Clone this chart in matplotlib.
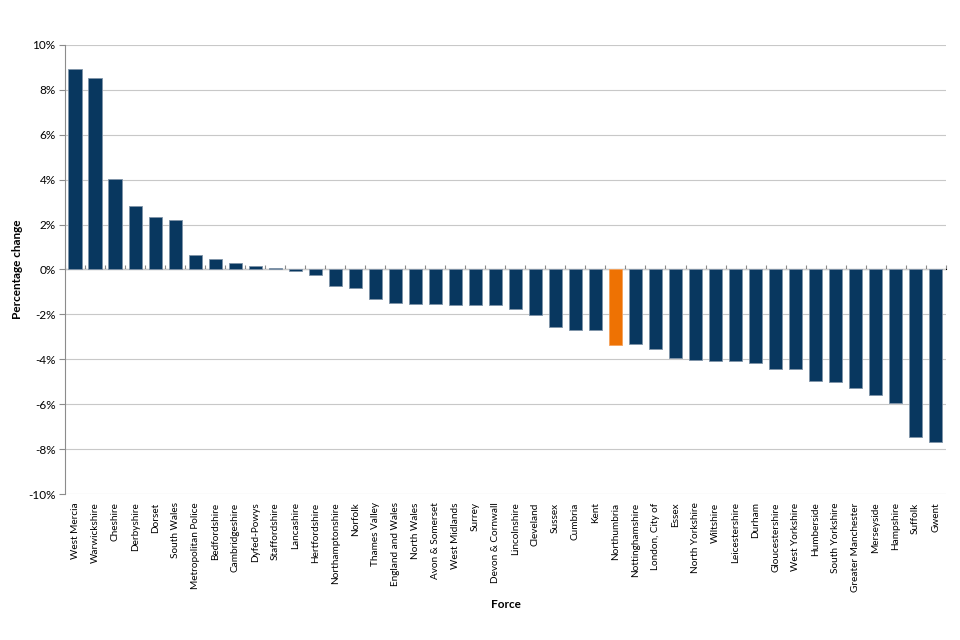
import matplotlib
matplotlib.use("Agg")
from matplotlib import pyplot as plt
from matplotlib.ticker import FuncFormatter, MultipleLocator

forces = [
    'West Mercia', 'Warwickshire', 'Cheshire', 'Derbyshire', 'Dorset', 'South Wales',
    'Metropolitan Police', 'Bedfordshire', 'Cambridgeshire', 'Dyfed-Powys', 'Staffordshire',
    'Lancashire', 'Hertfordshire', 'Northamptonshire', 'Norfolk', 'Thames Valley',
    'England and Wales', 'North Wales', 'Avon & Somerset', 'West Midlands', 'Surrey',
    'Devon & Cornwall', 'Lincolnshire', 'Cleveland', 'Sussex', 'Cumbria', 'Kent',
    'Northumbria', 'Nottinghamshire', 'London, City of', 'Essex', 'North Yorkshire',
    'Wiltshire', 'Leicestershire', 'Durham', 'Gloucestershire', 'West Yorkshire',
    'Humberside', 'South Yorkshire', 'Greater Manchester', 'Merseyside', 'Hampshire',
    'Suffolk', 'Gwent',
]
change = [
    8.93, 8.53, 4.03, 2.83, 2.34, 2.20,
    0.63, 0.46, 0.28, 0.16, 0.07,
    -0.06, -0.24, -0.73, -0.83, -1.31,
    -1.49, -1.53, -1.53, -1.58, -1.58,
    -1.58, -1.76, -2.02, -2.57, -2.69, -2.69,
    -3.36, -3.32, -3.54, -3.94, -4.02,
    -4.08, -4.08, -4.17, -4.43, -4.43,
    -4.97, -5.01, -5.28, -5.60, -5.95,
    -7.46, -7.69,
]
highlight = 'Northumbria'

navy = '#08375f'
orange = '#ee7203'

plt.rcParams['font.family'] = ['Lato', 'DejaVu Sans']

fig = plt.figure(figsize=(9.6, 6.4), dpi=100)
ax = fig.add_axes([0.068, 0.228, 0.917, 0.702])

x = list(range(len(forces)))
colors = [orange if f == highlight else navy for f in forces]
edges = ['#f5a25c' if f == highlight else '#7f93a8' for f in forces]
ax.bar(x, change, width=0.68, color=colors, edgecolor=edges, linewidth=0.6, zorder=3)

ax.set_xlim(-0.5, len(forces) - 0.5)
ax.set_ylim(-10, 10)
ax.yaxis.set_major_locator(MultipleLocator(2))
ax.yaxis.set_major_formatter(FuncFormatter(lambda v, p: f'{v:.0f}%'))
ax.grid(axis='y', color='#c8c8c8', linewidth=0.8, zorder=0)

for s in ['top', 'right', 'bottom']:
    ax.spines[s].set_visible(False)
ax.spines['left'].set_color('#8c8c8c')
ax.spines['left'].set_linewidth(0.8)

ax.tick_params(axis='y', direction='out', length=4, color='#8c8c8c', labelsize=8.5, pad=3)
ax.set_xticks(x)
ax.set_xticklabels(forces, rotation=90, fontsize=7.2)
ax.tick_params(axis='x', length=0, pad=6)

# zero line with category tick marks
sec = ax.secondary_xaxis(0.5)
sec.set_xticks([i - 0.5 for i in range(len(forces) + 1)])
sec.set_xticklabels([])
sec.tick_params(direction='out', length=3, color='#8c8c8c')
sec.spines['bottom'].set_color('#8c8c8c')
sec.spines['bottom'].set_linewidth(0.8)

ax.set_ylabel('Percentage change', fontsize=8.5, fontweight='bold', labelpad=4)
ax.set_xlabel('Force', fontsize=8.5, fontweight='bold', labelpad=5)

fig.savefig('out.png', dpi=100)
